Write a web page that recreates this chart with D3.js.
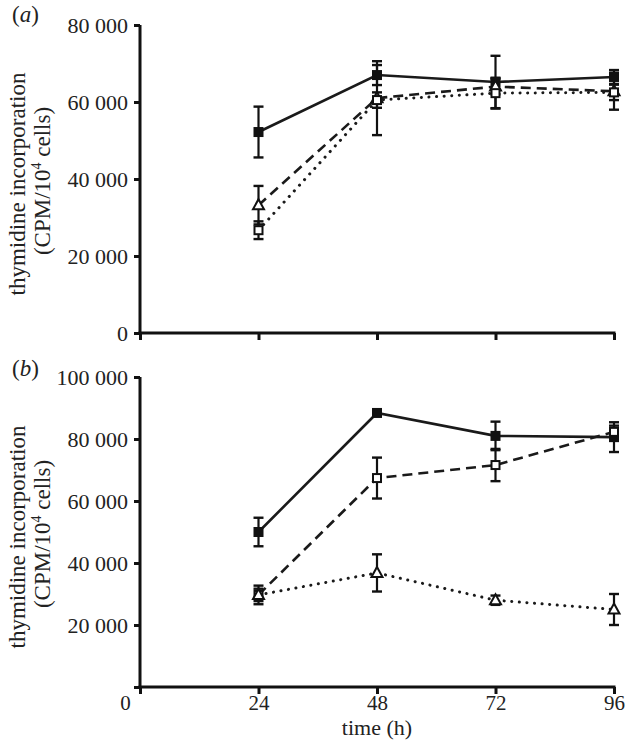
<!DOCTYPE html>
<html><head><meta charset="utf-8">
<script src="https://cdn.jsdelivr.net/npm/d3@7"></script>
<style>
body{margin:0;background:#fff;}
svg{display:block;}
svg text{font-family:"Liberation Serif","Times New Roman",serif !important;}
</style></head>
<body>
<svg id="c" width="626" height="743"></svg>
<script>
// ---- data ----
const times = [24, 48, 72, 96];
const xTicks = [0, 24, 48, 72, 96];
const xTickLabels = ["0", "24", "48", "72", "96"];

// panel (a)
const aTicksY = [0, 20000, 40000, 60000, 80000];
const aSolid = [52200, 67000, 65200, 66500];
const aSolidErr = [6600, 2600, 6800, 1800];
const aDashed = [33200, 61000, 64000, 62800];      // open triangles
const aDashedErr = [5000, 9600, 2000, 4800];
const aDotted = [26700, 60500, 62300, 62500];      // open squares
const aDottedErr = [2300, 2000, 4000, 2000];

// panel (b)
const bTicksY = [0, 20000, 40000, 60000, 80000, 100000];
const bSolid = [50000, 88400, 81000, 80600];
const bSolidErr = [4600, 800, 4600, 4800];
const bDashed = [29700, 67400, 71600, 82300];      // open squares
const bDashedErr = [3000, 6600, 5200, 2000];
const bDotted = [29700, 36800, 28000, 25000];      // open triangles
const bDottedErr = [2000, 6000, 1500, 5000];

const svg = d3.select("#c");
const x = d3.scaleLinear().domain([0, 96]).range([140, 614]);
const fmt = v => d3.format(",")(v).replace(/,/g, " ");

function panel(opts) {
  const y = d3.scaleLinear().domain([0, opts.yMax]).range([opts.bottom, opts.top]);
  const g = svg.append("g");

  const ya = g.append("g").attr("transform", `translate(${x(0)},0)`)
    .call(d3.axisLeft(y).tickValues(opts.yTicks).tickSize(6).tickSizeOuter(0).tickPadding(6)
      .tickFormat(v => (opts.showYZero || v !== 0) ? fmt(v) : ""));
  const xa = g.append("g").attr("transform", `translate(0,${opts.bottom})`)
    .call(d3.axisBottom(x).tickValues(xTicks).tickSize(7).tickSizeOuter(0).tickPadding(1)
      .tickFormat((v, i) => opts.showXLabels ? xTickLabels[i] : ""));
  [ya, xa].forEach(a => {
    a.attr("font-family", null);
    a.select(".domain").attr("stroke", "#111").attr("stroke-width", 3);
    a.selectAll(".tick line").attr("stroke", "#111").attr("stroke-width", 3);
  });
  ya.selectAll("text").attr("fill", "#222").attr("font-size", 22);
  xa.selectAll("text").attr("fill", "#222").attr("font-size", 21);
  xa.select(".domain").attr("d", `M${x(0) - 1.5},0H${x(96) + 1.5}`);
  ya.select(".domain").attr("d", `M0,${opts.top}V${opts.bottom + 1.5}`);
  xa.selectAll(".tick text").filter(d => d === 0).attr("dx", -15);

  const line = d3.line().x((d, i) => x(times[i])).y(d => y(d));
  const series = opts.series;
  series.forEach(s => {
    g.append("path").datum(s.v).attr("d", line).attr("fill", "none")
      .attr("stroke", "#1a1a1a").attr("stroke-width", s.dash === "dot" ? 3 : 2.6)
      .attr("stroke-dasharray", s.dash === "dash" ? "10,6" : s.dash === "dot" ? "0.1,7.5" : null)
      .attr("stroke-linecap", s.dash === "dot" ? "round" : "butt");
  });
  series.forEach(s => {
    s.v.forEach((v, i) => {
      const cx = x(times[i]);
      const y0 = y(v - s.e[i]), y1 = y(v + s.e[i]);
      g.append("line").attr("x1", cx).attr("x2", cx).attr("y1", y0).attr("y2", y1)
        .attr("stroke", "#111").attr("stroke-width", 2.2);
      [y0, y1].forEach(yy => g.append("line").attr("x1", cx - 5).attr("x2", cx + 5)
        .attr("y1", yy).attr("y2", yy).attr("stroke", "#111").attr("stroke-width", 2.4));
    });
  });
  series.forEach(s => {
    s.v.forEach((v, i) => {
      const cx = x(times[i]), cy = y(v);
      if (s.m === "fsq") {
        g.append("rect").attr("x", cx - 5).attr("y", cy - 5).attr("width", 10).attr("height", 10)
          .attr("fill", "#111");
      } else if (s.m === "osq") {
        g.append("rect").attr("x", cx - 4).attr("y", cy - 4).attr("width", 8).attr("height", 8)
          .attr("fill", "#fff").attr("stroke", "#111").attr("stroke-width", 2);
      } else {
        g.append("path").attr("d", `M${cx},${cy - 6}L${cx + 5.5},${cy + 4}L${cx - 5.5},${cy + 4}Z`)
          .attr("fill", "#fff").attr("stroke", "#111").attr("stroke-width", 2);
      }
    });
  });

  const cy = (opts.top + opts.bottom) / 2 + 5;
  g.append("text").attr("transform", `translate(25,${cy}) rotate(-90)`)
    .attr("text-anchor", "middle").attr("font-size", 23).attr("fill", "#222")
    .text("thymidine incorporation");
  const t2 = g.append("text").attr("transform", `translate(50,${cy - 3}) rotate(-90)`)
    .attr("text-anchor", "middle").attr("font-size", 23).attr("fill", "#222");
  t2.append("tspan").text("(CPM/10");
  t2.append("tspan").attr("font-size", 14).attr("dy", -9).text("4");
  t2.append("tspan").attr("dy", 9).text(" cells)");

  const pl = g.append("text").attr("x", 12).attr("y", opts.labelY).attr("font-size", 23).attr("fill", "#222");
  pl.append("tspan").text("(");
  pl.append("tspan").attr("font-style", "italic").text(opts.label);
  pl.append("tspan").text(")");
  return y;
}

panel({
  top: 25, bottom: 333, yMax: 80000, yTicks: aTicksY, showYZero: true, showXLabels: false,
  label: "a", labelY: 22,
  series: [
    {v: aSolid, e: aSolidErr, dash: null, m: "fsq"},
    {v: aDashed, e: aDashedErr, dash: "dash", m: "tri"},
    {v: aDotted, e: aDottedErr, dash: "dot", m: "osq"}
  ]
});
panel({
  top: 377, bottom: 687, yMax: 100000, yTicks: bTicksY, showYZero: false, showXLabels: true,
  label: "b", labelY: 376,
  series: [
    {v: bSolid, e: bSolidErr, dash: null, m: "fsq"},
    {v: bDashed, e: bDashedErr, dash: "dash", m: "osq"},
    {v: bDotted, e: bDottedErr, dash: "dot", m: "tri"}
  ]
});

svg.append("text").attr("x", x(48)).attr("y", 735).attr("text-anchor", "middle")
  .attr("font-size", 22).attr("fill", "#222").text("time (h)");
</script>
</body></html>
